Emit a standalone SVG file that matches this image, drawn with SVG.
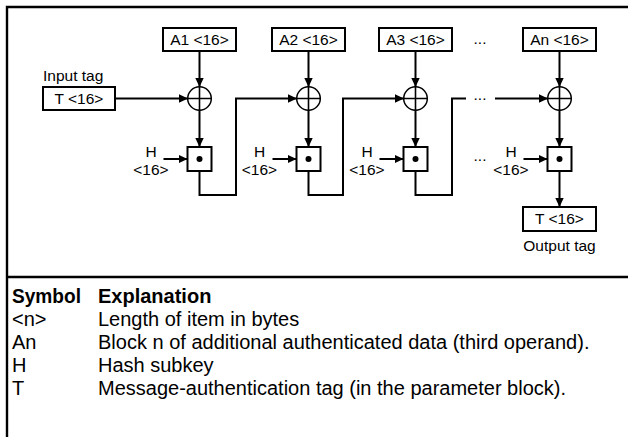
<svg xmlns="http://www.w3.org/2000/svg" width="628" height="437" viewBox="0 0 628 437">
<style>
  text { font-family: "Liberation Sans", Arial, sans-serif; fill: #000; }
  .lbl { font-size: 15.5px; }
  .ctr { text-anchor: middle; }
  .tbl { font-size: 20px; }
  .hdr { font-size: 20px; font-weight: bold; }
  .box { fill: #fff; stroke: #000; stroke-width: 2; }
  .ln { fill: none; stroke: #000; stroke-width: 2; }
  .frame { fill: none; stroke: #000; stroke-width: 2.4; }
</style>
<defs>
  <marker id="ah" markerUnits="userSpaceOnUse" markerWidth="10" markerHeight="10" refX="9" refY="5" orient="auto">
    <path d="M0,0.8 L9,5 L0,9.2 z" fill="#000"/>
  </marker>
  <g id="xor">
    <circle cx="0" cy="0" r="11.8" fill="#fff" stroke="#000" stroke-width="1.5"/>
    <path d="M-11.8,0 H11.8 M0,-11.8 V11.8" stroke="#000" stroke-width="1.6"/>
  </g>
  <g id="mul">
    <rect x="-12" y="-12" width="24" height="24" class="box"/>
    <circle cx="0" cy="0" r="3" fill="#000"/>
  </g>
</defs>

<g id="frame">
  <path class="frame" d="M7,437 V7 H628 M7,277 H628"/>
</g>

<g id="connectors">
  <path class="ln" marker-end="url(#ah)" d="M199.5,51 V87"/>
  <path class="ln" marker-end="url(#ah)" d="M308.5,51 V87"/>
  <path class="ln" marker-end="url(#ah)" d="M415.5,51 V87"/>
  <path class="ln" marker-end="url(#ah)" d="M559.5,51 V87"/>
  <path class="ln" marker-end="url(#ah)" d="M115,98.5 H188"/>
  <path class="ln" marker-end="url(#ah)" d="M199.5,110 V147"/>
  <path class="ln" marker-end="url(#ah)" d="M308.5,110 V147"/>
  <path class="ln" marker-end="url(#ah)" d="M415.5,110 V147"/>
  <path class="ln" marker-end="url(#ah)" d="M559.5,110 V147"/>
  <path class="ln" marker-end="url(#ah)" d="M163.5,159 H187.5"/>
  <path class="ln" marker-end="url(#ah)" d="M272.5,159 H296.5"/>
  <path class="ln" marker-end="url(#ah)" d="M379.5,159 H403.5"/>
  <path class="ln" marker-end="url(#ah)" d="M523.5,159 H547.5"/>
  <path class="ln" marker-end="url(#ah)" d="M199.5,171 V195 H236 V98.5 H297"/>
  <path class="ln" marker-end="url(#ah)" d="M308.5,171 V195 H343 V98.5 H404"/>
  <path class="ln" d="M415.5,171 V195 H452 V98.5 H466"/>
  <path class="ln" marker-end="url(#ah)" d="M495,98.5 H548"/>
  <path class="ln" marker-end="url(#ah)" d="M559.5,171 V207"/>
</g>

<g id="input-tag">
  <text class="lbl" x="43" y="81">Input tag</text>
  <rect class="box" x="43" y="87" width="72" height="23"/>
  <text class="lbl ctr" x="79" y="104">T &lt;16&gt;</text>
</g>

<g id="a1"><rect class="box" x="163" y="28" width="73" height="23"/><text class="lbl ctr" x="199.5" y="45">A1 &lt;16&gt;</text></g>
<g id="a2"><rect class="box" x="272" y="28" width="73" height="23"/><text class="lbl ctr" x="308.5" y="45">A2 &lt;16&gt;</text></g>
<g id="a3"><rect class="box" x="379" y="28" width="73" height="23"/><text class="lbl ctr" x="415.5" y="45">A3 &lt;16&gt;</text></g>
<g id="an"><rect class="box" x="523" y="28" width="73" height="23"/><text class="lbl ctr" x="559.5" y="45">An &lt;16&gt;</text></g>

<g id="xor1"><use href="#xor" x="199.5" y="98.5"/></g>
<g id="xor2"><use href="#xor" x="308.5" y="98.5"/></g>
<g id="xor3"><use href="#xor" x="415.5" y="98.5"/></g>
<g id="xorn"><use href="#xor" x="559.5" y="98.5"/></g>

<g id="mul1"><use href="#mul" x="199.5" y="159"/></g>
<g id="mul2"><use href="#mul" x="308.5" y="159"/></g>
<g id="mul3"><use href="#mul" x="415.5" y="159"/></g>
<g id="muln"><use href="#mul" x="559.5" y="159"/></g>

<g id="h1"><text class="lbl ctr" x="151" y="157">H</text><text class="lbl ctr" x="151" y="175">&lt;16&gt;</text></g>
<g id="h2"><text class="lbl ctr" x="259.5" y="157">H</text><text class="lbl ctr" x="259.5" y="175">&lt;16&gt;</text></g>
<g id="h3"><text class="lbl ctr" x="367" y="157">H</text><text class="lbl ctr" x="367" y="175">&lt;16&gt;</text></g>
<g id="hn"><text class="lbl ctr" x="511" y="157">H</text><text class="lbl ctr" x="511" y="175">&lt;16&gt;</text></g>

<g id="ellipses">
  <text class="lbl ctr" x="480" y="44">...</text>
  <text class="lbl ctr" x="480" y="100">...</text>
  <text class="lbl ctr" x="480" y="161">...</text>
</g>

<g id="output-tag">
  <rect class="box" x="523" y="207" width="73" height="24"/>
  <text class="lbl ctr" x="559.5" y="224">T &lt;16&gt;</text>
  <text class="lbl ctr" x="559.5" y="251">Output tag</text>
</g>

<g id="legend">
  <text class="hdr" x="12" y="303" textLength="69" lengthAdjust="spacingAndGlyphs">Symbol</text>
  <text class="hdr" x="98" y="303">Explanation</text>
  <text class="tbl" x="12" y="326">&lt;n&gt;</text>
  <text class="tbl" x="98" y="326">Length of item in bytes</text>
  <text class="tbl" x="12" y="349">An</text>
  <text class="tbl" x="98" y="349">Block n of additional authenticated data (third operand).</text>
  <text class="tbl" x="12" y="372">H</text>
  <text class="tbl" x="98" y="372">Hash subkey</text>
  <text class="tbl" x="12" y="395">T</text>
  <text class="tbl" x="98" y="395">Message-authentication tag (in the parameter block).</text>
</g>
</svg>
